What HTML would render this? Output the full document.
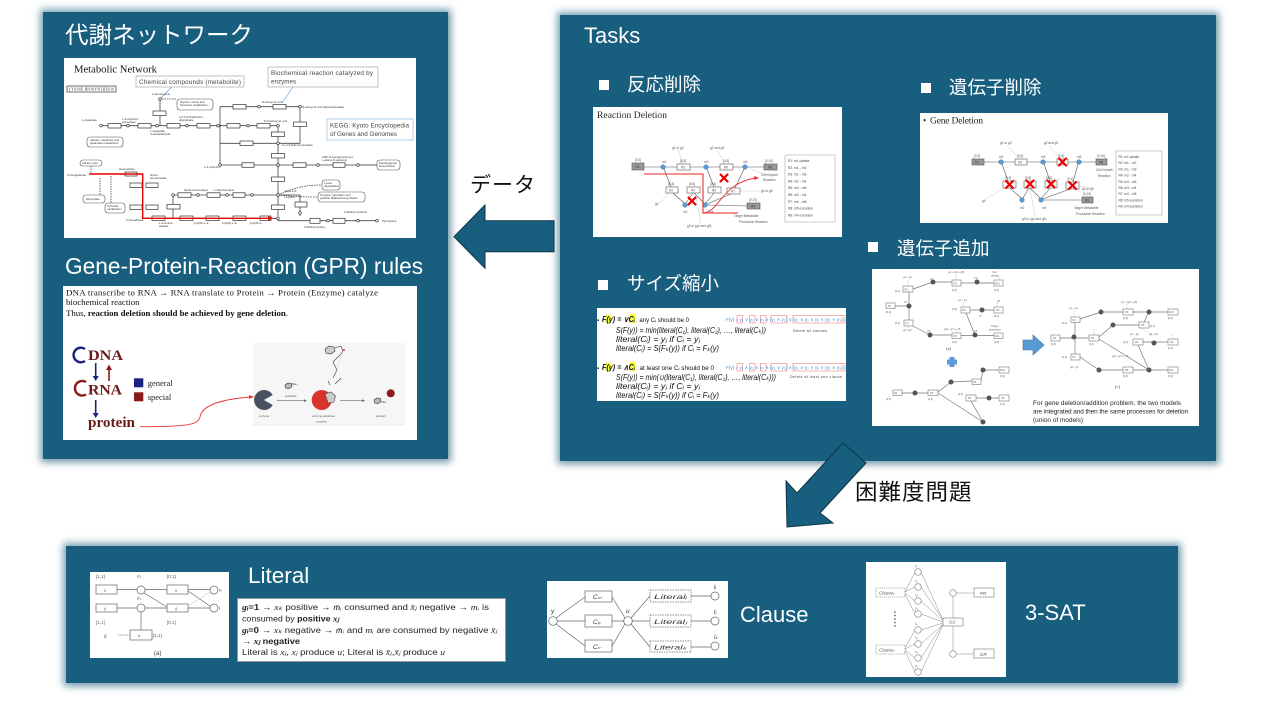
<!DOCTYPE html>
<html><head><meta charset="utf-8">
<style>
html,body{margin:0;padding:0;}
body{width:1280px;height:720px;position:relative;overflow:hidden;background:#fff;font-family:"Liberation Sans","Noto Sans CJK JP",sans-serif;}
.panel{position:absolute;background:#175e7f;box-shadow:0 0 7px 3px rgba(23,94,127,.55),2px 3px 8px rgba(0,0,0,.12);}
.t{position:absolute;color:#fff;white-space:nowrap;line-height:1;font-family:"Liberation Sans","Noto Sans CJK JP",sans-serif;}
.k{position:absolute;color:#111;white-space:nowrap;line-height:1;font-family:"Liberation Sans","Noto Sans CJK JP",sans-serif;}
.bul{position:absolute;width:10px;height:10px;background:#fff;}
.img{position:absolute;background:#fff;overflow:hidden;}
svg text{font-family:"Liberation Sans",sans-serif;}
.sf{font-family:"Liberation Serif",serif !important;}
</style></head><body>

<!-- Panels -->
<div class="panel" style="left:43px;top:12px;width:405px;height:447px;"></div>
<div class="panel" style="left:560px;top:15px;width:656px;height:446px;"></div>
<div class="panel" style="left:66px;top:546px;width:1112px;height:137px;"></div>

<!-- Left panel -->
<div class="t" style="left:65px;top:24px;font-size:23.5px;">代謝ネットワーク</div>

<div class="img" style="left:64px;top:58px;width:352px;height:180px;">
<svg width="352" height="180" viewBox="0 0 352 180">
<text x="10" y="14.5" class="sf" font-size="10.5" textLength="83" lengthAdjust="spacingAndGlyphs" fill="#111">Metabolic Network</text>
<rect x="72" y="18" width="108" height="11" fill="#fff" stroke="#999" stroke-width=".6"/>
<text x="75" y="26" font-size="6.3" fill="#444" textLength="102">Chemical compounds (metabolite)</text>
<rect x="204" y="9" width="110" height="20" fill="#fff" stroke="#999" stroke-width=".6"/>
<text x="207" y="17" font-size="6.3" fill="#444" textLength="102">Biochemical reaction catalyzed by</text>
<text x="207" y="25.5" font-size="6.3" fill="#444">enzymes</text>
<rect x="263" y="61" width="86" height="21" fill="#fff" stroke="#9dc3e6" stroke-width=".8"/>
<text x="266" y="69.5" font-size="6.3" fill="#444" textLength="79">KEGG: Kyoto Encyclopedia</text>
<text x="266" y="78" font-size="6.3" fill="#444">of Genes and Genomes</text>
<rect x="3" y="28" width="49" height="6" fill="none" stroke="#333" stroke-width=".7"/>
<text x="5" y="32.6" class="sf" font-size="3.6" fill="#222" textLength="45">LYSINE BIOSYNTHESIS</text>
<path d="M107.7,29 L96,41 M229,29 L218,45" stroke="#5b9bd5" stroke-width=".6"/>
<g stroke="#444" stroke-width=".8" fill="none">
<path d="M37,67.7H156 M96,41V67.7 M156,48.7V107 M156,48.7H236V85.3 M156,67.7H214 M156,85.3H236 M214,67.7V162.7 M156,107H313 M109,137H214 M214,162.7H313 M236,137V158 M78.7,160.3H214 M109,137V160.3 M25,116H78.7 M246,162.7H214 M214,137H236"/>
<path d="M27,108V116 M47,118V145 M36,120V137 M214,137 C230,130 240,127 258,127 M214,137 C235,139 240,139 254,139 M98,41H113 M294,107H313" stroke-dasharray="1.5,1"/>
</g>
<g fill="#fff" stroke="#333" stroke-width=".7">
<rect x="44" y="65.5" width="13" height="4.5"/><rect x="74" y="65.5" width="13" height="4.5"/><rect x="103" y="65.5" width="13" height="4.5"/><rect x="133" y="65.5" width="13" height="4.5"/>
<rect x="89" y="53" width="13" height="4.5"/><rect x="169" y="46.5" width="13" height="4.5"/><rect x="209" y="46.5" width="13" height="4.5"/>
<rect x="229.5" y="64" width="13" height="4.5"/><rect x="163" y="65.5" width="13" height="4.5"/><rect x="193" y="65.5" width="13" height="4.5"/>
<rect x="176" y="83" width="13" height="4.5"/>
<rect x="207.5" y="74" width="13" height="4.5"/><rect x="207.5" y="95.5" width="13" height="4.5"/><rect x="207.5" y="119" width="13" height="4.5"/><rect x="207.5" y="147" width="13" height="4.5"/>
<rect x="178" y="104.8" width="12" height="4.5"/><rect x="229" y="104.8" width="13" height="4.5"/><rect x="269" y="104.8" width="12" height="4.5"/>
<rect x="88" y="158" width="13" height="4.5"/><rect x="116" y="158" width="13" height="4.5"/><rect x="142" y="158" width="13" height="4.5"/><rect x="169" y="158" width="13" height="4.5"/><rect x="196" y="158" width="11" height="4.5"/>
<rect x="114" y="134.8" width="13" height="4.5"/><rect x="143" y="134.8" width="13" height="4.5"/><rect x="169" y="134.8" width="12" height="4.5"/>
<rect x="61" y="114" width="12" height="4"/><rect x="66" y="125" width="12" height="4.5"/><rect x="82" y="125" width="12" height="4.5"/><rect x="66" y="147" width="12" height="4.5"/><rect x="82" y="147" width="12" height="4.5"/><rect x="103" y="146.5" width="13" height="4.5"/>
<rect x="231" y="144" width="12" height="5"/><rect x="246" y="160.3" width="10" height="5"/><rect x="269" y="160.3" width="12" height="5"/>
</g>
<g fill="#fff" stroke="#555" stroke-width=".6">
<rect x="113" y="41" width="36" height="11" rx="3"/><rect x="23" y="79" width="36" height="10" rx="3"/><rect x="313" y="102" width="23" height="10" rx="3"/>
<rect x="16" y="102" width="22" height="6" rx="3"/><rect x="19" y="137" width="22" height="8" rx="3"/><rect x="41" y="145" width="20" height="10" rx="3"/>
<rect x="258" y="122" width="18" height="10" rx="3"/><rect x="254" y="134" width="47" height="10" rx="3"/>
</g>
<g fill="#fff" stroke="#222" stroke-width=".6">
<circle cx="37" cy="67.7" r="1.3"/><circle cx="64" cy="67.7" r="1.3"/><circle cx="93" cy="67.7" r="1.3"/><circle cx="123" cy="67.7" r="1.3"/><circle cx="154" cy="67.7" r="1.3"/>
<circle cx="96" cy="41" r="1.3"/><circle cx="195" cy="48.7" r="1.3"/><circle cx="236" cy="48.7" r="1.3"/><circle cx="184" cy="67.7" r="1.3"/><circle cx="214" cy="67.7" r="1.3"/>
<circle cx="214" cy="85.3" r="1.3"/><circle cx="214" cy="107" r="1.3"/><circle cx="214" cy="137" r="1.3"/><circle cx="214" cy="160.3" r="1.3"/><circle cx="254" cy="107" r="1.3"/><circle cx="294" cy="107" r="1.3"/>
<circle cx="109" cy="137" r="1.3"/><circle cx="134" cy="137" r="1.3"/><circle cx="163" cy="137" r="1.3"/><circle cx="188" cy="137" r="1.3"/><circle cx="264" cy="162.7" r="1.3"/><circle cx="294" cy="162.7" r="1.3"/><circle cx="313" cy="162.7" r="1.3"/><circle cx="156" cy="107" r="1.3"/><circle cx="236" cy="155" r="1.3"/>
</g>
<g font-size="2.9" fill="#333" class="sf">
<text x="18" y="63">L-Aspartate</text><text x="58" y="62">L-4-Aspartyl-</text><text x="58" y="65">phosphate</text><text x="88" y="37">L-Homoserine</text>
<text x="115" y="60">2,3,4,5-Tetrahydro-</text><text x="115" y="63">dipicolinate</text><text x="86" y="74">L-Aspartate</text><text x="86" y="77">4-semialdehyde</text>
<text x="198" y="45">N-Acetyl-LL-2,6-</text><text x="238" y="50">N-Acetyl-LL-2,6-diaminopimelate</text><text x="200" y="64">N-Succinyl-LL-2,6-</text>
<text x="218" y="88">LL-2,6-Diaminopimelate</text><text x="140" y="110">L-2,3-Amino-</text><text x="258" y="100">UDP-N-acetylmuramoyl-</text><text x="258" y="103">L-alanyl-D-glutamyl</text>
<text x="220" y="134">meso-2,6-</text><text x="220" y="140">L-Lysine</text><text x="3" y="118">2-Oxoglutarate</text><text x="55" y="112">Homocitrate</text>
<text x="86" y="118">Homo-</text><text x="86" y="121">cis-aconitate</text><text x="62" y="163">2-Oxoadipate</text><text x="95" y="166">L-2-Amino-</text><text x="95" y="169">adipate</text>
<text x="130" y="166">Lys(W)-L-2-</text><text x="158" y="166">Lys(W)-L-2-</text><text x="186" y="166">Lys(W)-L-</text><text x="318" y="164">Pyrrolysine</text>
<text x="240" y="170">3-Methylornithyl-</text><text x="120" y="133">alpha-Aminoadipyl</text><text x="150" y="133">L-Saccharopine</text><text x="280" y="155">3-Methyl-ornithine</text>
<text x="116" y="45">Glycine, serine and</text><text x="116" y="48">threonine metabolism</text><text x="26" y="83">Alanine, aspartate and</text><text x="26" y="86">glutamate metabolism</text>
<text x="18" y="106">Citrate cycle</text><text x="22" y="142">Glyoxylate</text><text x="43" y="149">Pyruvate</text><text x="43" y="152">metabolism</text>
<text x="315" y="106">Peptidoglycan</text><text x="315" y="109">biosynthesis</text><text x="260" y="126">Lysine</text><text x="260" y="129">degradation</text><text x="256" y="138">Tropane, piperidine and</text><text x="256" y="141">pyridine alkaloid biosynthesis</text>
</g>
<path d="M25,116H78.7V160.3H205" stroke="#e60000" stroke-width="1.4" fill="none"/>
<path d="M204,158 L209.5,160.3 L204,162.6Z" fill="#e60000"/>
</svg>
</div>

<div class="t" style="left:65px;top:255px;font-size:22.7px;">Gene-Protein-Reaction (GPR) rules</div>

<div class="img" style="left:63px;top:286px;width:354px;height:154px;">
<svg width="354" height="154" viewBox="0 0 354 154">
<text x="3" y="9.7" class="sf" font-size="8.8" fill="#111" textLength="312" lengthAdjust="spacing">DNA transcribe to RNA → RNA translate to Protein → Protein (Enzyme) catalyze</text>
<text x="3" y="19" class="sf" font-size="8.8" fill="#111">biochemical reaction</text>
<text x="3" y="30" class="sf" font-size="8.8" fill="#111" textLength="222" lengthAdjust="spacing">Thus, <tspan font-weight="bold">reaction deletion should be achieved by gene deletion</tspan>.</text>
<rect x="190" y="57" width="152" height="82" fill="#f6f6f6"/>
<path d="M22,63 A7.3,7.3 0 1 0 22,75" stroke="#1a237e" stroke-width="2.4" fill="none"/>
<path d="M23,96 A7.3,7.3 0 1 0 23,108.5" stroke="#8b1a1a" stroke-width="2.4" fill="none"/>
<text x="25" y="74" class="sf" font-size="15" font-weight="bold" fill="#6b1a1a" textLength="35" lengthAdjust="spacingAndGlyphs">DNA</text>
<text x="25" y="108.5" class="sf" font-size="15" font-weight="bold" fill="#6b1a1a" textLength="34" lengthAdjust="spacingAndGlyphs">RNA</text>
<text x="25" y="141" class="sf" font-size="14.5" font-weight="bold" fill="#6b1a1a" textLength="47" lengthAdjust="spacingAndGlyphs">protein</text>
<path d="M32.7,77V91 M32.7,114V128" stroke="#1a237e" stroke-width="1.6"/>
<path d="M29.7,90 L32.7,95 L35.7,90Z M29.7,127 L32.7,132 L35.7,127Z" fill="#1a237e"/>
<path d="M46,95V83" stroke="#8b1a1a" stroke-width="1.6"/>
<path d="M43,84 L46,78.5 L49,84Z" fill="#8b1a1a"/>
<rect x="71" y="92.3" width="9.3" height="9" fill="#1a237e"/>
<rect x="71" y="106.3" width="9.3" height="9" fill="#8b1a1a"/>
<text x="84.7" y="100" class="sf" font-size="8.5" fill="#222">general</text>
<text x="84.7" y="114" class="sf" font-size="8.5" fill="#222">special</text>
<path d="M77,140.7 C125,140.5 135,139 137,131 C139,119 160,113 188,111" stroke="#e53935" stroke-width=".9" fill="none"/>
<path d="M186,109 L191,110.8 L186.3,113Z" fill="#e53935"/>
<path d="M201,114 m8.7,-5 A10,10 0 1 0 209.7,119 L201,114Z" fill="#4a5160"/>
<path d="M214,114.7H242" stroke="#666" stroke-width=".6"/><path d="M241,113.3 L244,114.7 L241,116Z" fill="#666"/>
<polygon points="222,99 225,97 228.5,97.5 229,100.5 226,102.5 222.5,102" fill="#bbb" stroke="#333" stroke-width=".6"/>
<text x="229" y="99" font-size="3" fill="#333">NH₃</text>
<text x="222" y="111" font-size="2.8" fill="#555">substrate</text>
<circle cx="258.7" cy="114" r="10" fill="#d9342b"/>
<polygon points="262,108 268,106 272.5,110 271,116 265,117" fill="#ccc" stroke="#444" stroke-width=".6"/>
<path d="M277,114.7H300" stroke="#666" stroke-width=".6"/><path d="M299,113.3 L302,114.7 L299,116Z" fill="#666"/>
<polygon points="311,114 314,112 317.5,112.5 318,115.5 315,117.5 311.5,117" fill="#bbb" stroke="#333" stroke-width=".6"/>
<text x="318.5" y="117" font-size="3" fill="#333">NH</text>
<circle cx="327.7" cy="107.3" r="4" fill="#8b1a1a"/>
<g stroke="#333" stroke-width=".6" fill="none">
<polygon points="262,63 266,60 271,61 272,65 268,68 263,67" fill="#ccc"/>
<path d="M272,62 L278,60 M278,60 L280,65 M280,65 L276,70 M276,70 L270,76 M270,76 L274,84 M274,84 L270,92 M265,95 L267,99 M278,92 L272,98"/>
</g>
<path d="M280,65 L274,82" stroke="#8bc34a" stroke-width=".5" stroke-dasharray="1,1"/>
<circle cx="281" cy="64" r="1" fill="#e53935"/>
<g font-size="2.9" fill="#555">
<text x="196" y="131">enzyme</text><text x="249" y="131">enzyme-substrate</text><text x="253" y="136.5">complex</text><text x="313" y="131">product</text>
</g>
<path d="M190,139H342" stroke="#ddd" stroke-width=".6"/>
</svg>
</div>

<!-- Arrows and labels between panels -->
<div class="k" style="left:470px;top:175px;font-size:21px;letter-spacing:1px;">データ</div>
<svg style="position:absolute;left:0;top:0;" width="1280" height="720">
<polygon points="454,236.7 485,205 485,220.7 554,220.7 554,251.7 485,251.7 485,268.3" fill="#175e7f" stroke="#0d3446" stroke-width="1"/>
<polygon points="843,443 866,463 820,513 833,523 787,527 786,481 797,493" fill="#175e7f" stroke="#0d3446" stroke-width="1"/>
</svg>
<div class="k" style="left:855px;top:482px;font-size:22.5px;letter-spacing:1px;">困難度問題</div>

<!-- Tasks panel -->
<div class="t" style="left:584px;top:25px;font-size:22px;">Tasks</div>
<div class="bul" style="left:599px;top:80px;"></div>
<div class="t" style="left:627px;top:76px;font-size:18.5px;">反応削除</div>
<div class="bul" style="left:921px;top:83px;"></div>
<div class="t" style="left:949px;top:79px;font-size:18.5px;">遺伝子削除</div>
<div class="bul" style="left:868px;top:242px;"></div>
<div class="t" style="left:897px;top:239.5px;font-size:18.5px;">遺伝子追加</div>
<div class="bul" style="left:598px;top:280px;"></div>
<div class="t" style="left:627px;top:275px;font-size:18.5px;">サイズ縮小</div>

<!-- Reaction deletion -->
<div class="img" style="left:593px;top:107px;width:249px;height:130px;">
<svg width="249" height="130" viewBox="0 0 249 130">
<text x="4" y="11" class="sf" font-size="9.5" fill="#222" textLength="70">Reaction Deletion</text>
<g stroke="#555" stroke-width=".6" fill="none">
<path d="M51,60H68 M72,60H84 M97,60H111 M115,60H127 M140,60H150 M154,60H171 M71,62L78,80 M80,86L91,96 M93,96L100,86 M101,86L111,96 M114,62L121,80 M121,86L113,96 M114,97L138,87 M142,81L151,62 M114,98L154,99"/>
</g>
<g stroke="#bbb" stroke-width=".4" fill="none"><path d="M85,43L90,57 M124,43L132,57 M166,84L147,84 M67,96L76,86 M108,116L102,86 M180,70L157,62"/></g>
<g stroke="#555" stroke-width=".6">
<rect x="39" y="56" width="12" height="7" fill="#999"/><rect x="171" y="57" width="13" height="6" fill="#999"/><rect x="154" y="96" width="13" height="6" fill="#999"/>
<rect x="84" y="57" width="13" height="6" fill="#fff"/><rect x="127" y="57" width="13" height="6" fill="#fff"/>
<rect x="73" y="80" width="12" height="6" fill="#fff"/><rect x="94" y="80" width="13" height="6" fill="#fff"/><rect x="115" y="80" width="13" height="6" fill="#fff"/><rect x="134" y="81" width="13" height="6" fill="#fff"/>
</g>
<g fill="#5b9bd5" stroke="#2e5f8a" stroke-width=".4">
<circle cx="70" cy="60" r="2.3"/><circle cx="113" cy="60" r="2.3"/><circle cx="152" cy="60" r="2.3"/><circle cx="92" cy="98" r="2.3"/><circle cx="112" cy="98" r="2.3"/>
</g>
<g font-size="3.2" fill="#555">
<text x="42" y="54">[3,3]</text><text x="87" y="55">[0,5]</text><text x="130" y="55">[0,5]</text><text x="172" y="55">[0,10]</text>
<text x="75" y="78">[0,4]</text><text x="96" y="78">[0,5]</text><text x="117" y="78">[0,4]</text><text x="156" y="94">[0,10]</text>
<text x="69" y="56">m1</text><text x="111" y="56">m3</text><text x="150" y="56">m5</text><text x="90" y="106">m2</text><text x="116" y="106">m4</text>
<text x="79" y="42">g1 or g2</text><text x="117" y="42">g2 and g3</text><text x="168" y="69">Cell  Growth</text><text x="170" y="74">Reaction</text>
<text x="168" y="85">g4 or g5</text><text x="62" y="98">g4</text><text x="141" y="110">Target Metabolite</text><text x="146" y="116">Production Reaction</text><text x="94" y="120">g3 or (g4 and g5)</text>
<text x="42.5" y="61" fill="#333">R1</text><text x="88" y="61.5">R3</text><text x="131" y="61.5">R5</text><text x="175" y="61.5" fill="#333">R8</text><text x="76" y="84.5">R2</text><text x="98" y="84.5">R4</text><text x="119" y="84.5">R6</text><text x="138" y="85.5">R7</text><text x="158" y="100.5" fill="#333">R9</text>
</g>
<rect x="192" y="48" width="50" height="67" fill="#fff" stroke="#aaa" stroke-width=".6"/>
<g font-size="3.3" fill="#444">
<text x="195" y="55">R1: m1 uptake</text><text x="195" y="61.8">R2: m1→m2</text><text x="195" y="68.6">R3: m1→m3</text><text x="195" y="75.4">R4: m2→m4</text><text x="195" y="82.2">R5: m3→m5</text><text x="195" y="89">R6: m3→m4</text><text x="195" y="95.8">R7: m4→m5</text><text x="195" y="102.6">R8: m5 excretion</text><text x="195" y="109.4">R9: m4 excretion</text>
</g>
<path d="M51,67H110V106H145" stroke="#f03030" stroke-width="1.3" fill="none" opacity=".85"/>
<path d="M110,106 C128,104 128,76 163,71" stroke="#f03030" stroke-width=".9" fill="none"/>
<path d="M161,69 L166,70.8 L161.5,73Z" fill="#f03030"/>
<g stroke="#e00" stroke-width="2.2" stroke-linecap="round"><path d="M127.5,67.5L134.5,74.5 M134.5,67.5L127.5,74.5 M95.5,90.5L102.5,97.5 M102.5,90.5L95.5,97.5"/></g>
</svg>
</div>

<!-- Gene deletion -->
<div class="img" style="left:920px;top:113px;width:248px;height:110px;">
<svg width="248" height="110" viewBox="0 0 248 110">
<text x="3" y="10.5" class="sf" font-size="9" fill="#222">•</text>
<text x="10" y="10.5" class="sf" font-size="9.5" fill="#222" textLength="53">Gene Deletion</text>
<g stroke="#555" stroke-width=".6" fill="none">
<path d="M64,49H79 M83,49H95 M107,49H121 M125,49H137 M148,49H157 M161,49H176 M82,51L88,68 M90,75L101,85 M103,85L109,75 M110,75L120,85 M124,51L130,68 M130,75L122,85 M123,86L150,76 M153,69L158,51 M123,87L162,87"/>
</g>
<g stroke="#bbb" stroke-width=".4" fill="none"><path d="M87,33L100,46 M129,33L141,46 M172,75L160,73 M66,86L86,74 M115,103L110,76 M140,65L131,70"/></g>
<g stroke="#555" stroke-width=".6">
<rect x="52" y="46" width="12" height="6" fill="#999"/><rect x="176" y="46" width="11" height="6" fill="#999"/><rect x="162" y="84" width="11" height="6" fill="#999"/>
<rect x="95" y="46" width="12" height="6" fill="#fff"/><rect x="137" y="46" width="11" height="6" fill="#fff"/>
<rect x="83" y="68" width="13" height="7" fill="#fff"/><rect x="104" y="68" width="12" height="7" fill="#fff"/><rect x="125" y="68" width="12" height="7" fill="#fff"/><rect x="146" y="69" width="13" height="7" fill="#fff"/>
</g>
<g fill="#5b9bd5" stroke="#2e5f8a" stroke-width=".4">
<circle cx="81" cy="49" r="2.3"/><circle cx="123" cy="49" r="2.3"/><circle cx="159" cy="49" r="2.3"/><circle cx="102" cy="87" r="2.3"/><circle cx="121" cy="87" r="2.3"/>
</g>
<g font-size="3.2" fill="#555">
<text x="54" y="44">[3,3]</text><text x="97" y="44">[0,5]</text><text x="138" y="44">[0,5]</text><text x="177" y="44">[0,10]</text>
<text x="85" y="66">[0,4]</text><text x="105" y="66">[0,5]</text><text x="126" y="66">[0,5]</text><text x="147" y="67">[0,1]</text><text x="163" y="82">[0,10]</text>
<text x="79" y="45">m1</text><text x="121" y="45">m3</text><text x="157" y="45">m5</text><text x="100" y="96">m2</text><text x="122" y="96">m4</text>
<text x="80" y="31">g1 or g2</text><text x="124" y="31">g2 and g3</text><text x="176" y="58">Cell  Growth</text><text x="178" y="64">Reaction</text><text x="162" y="77">g4 or g5</text>
<text x="62" y="89">g4</text><text x="154" y="96">Target Metabolite</text><text x="156" y="102">Production Reaction</text><text x="102" y="107">g3 or (g4 and g5)</text>
<text x="55" y="50.5" fill="#333">R1</text><text x="98" y="50.5">R3</text><text x="179" y="50.5" fill="#333">R8</text><text x="165" y="88.5" fill="#333">R9</text>
</g>
<rect x="196" y="38" width="46" height="64" fill="#fff" stroke="#aaa" stroke-width=".6"/>
<g font-size="3.2" fill="#444">
<text x="198.5" y="45">R1: m1 uptake</text><text x="198.5" y="51.2">R2: m1→m2</text><text x="198.5" y="57.4">R3: m1→m3</text><text x="198.5" y="63.6">R4: m2→m4</text><text x="198.5" y="69.8">R5: m3→m5</text><text x="198.5" y="76">R6: m3→m4</text><text x="198.5" y="82.2">R7: m4→m5</text><text x="198.5" y="88.4">R8: m5 excretion</text><text x="198.5" y="94.6">R9: m4 excretion</text>
</g>
<g stroke="#e00" stroke-width="2.2" stroke-linecap="round"><path d="M139,45.5L146,52.5 M146,45.5L139,52.5 M86,68L93,75 M93,68L86,75 M106.5,67.5L113.5,74.5 M113.5,67.5L106.5,74.5 M127.5,67.5L134.5,74.5 M134.5,67.5L127.5,74.5 M149,69L156,76 M156,69L149,76"/></g>
</svg>
</div>

<!-- Size reduction -->
<div class="img" style="left:597px;top:308px;width:249px;height:93px;">
<svg width="249" height="93" viewBox="0 0 249 93">
<rect x="8" y="7" width="6" height="8" fill="#ffff3b"/><rect x="32" y="6" width="6" height="9" fill="#ffff3b"/>
<rect x="8" y="55" width="6" height="8" fill="#ffff3b"/><rect x="32" y="54" width="6" height="9" fill="#ffff3b"/>
<g class="sf" fill="#111">
<text x="0" y="14" font-size="6">▪</text>
<text x="5" y="14" font-size="8" font-weight="bold" font-style="italic" textLength="33" lengthAdjust="spacingAndGlyphs">F(y) = ∨Cᵢ</text>
<text x="39" y="14" font-size="6.5" textLength="53" lengthAdjust="spacingAndGlyphs">: any Cᵢ should be 0</text>
<text x="19" y="25" font-size="8.5" font-style="italic" textLength="150" lengthAdjust="spacingAndGlyphs">S(F(y)) = min(literal(C₁), literal(C₂), …, literal(Cₖ))</text>
<text x="19" y="34" font-size="8.5" font-style="italic" textLength="84" lengthAdjust="spacingAndGlyphs">literal(Cᵢ) = yⱼ    if Cᵢ = yⱼ</text>
<text x="19" y="43" font-size="8.5" font-style="italic" textLength="103" lengthAdjust="spacingAndGlyphs">literal(Cᵢ) = S(Fₖ(y))   if Cᵢ = Fₖ(y)</text>
<text x="0" y="62" font-size="6">▪</text>
<text x="5" y="62" font-size="8" font-weight="bold" font-style="italic" textLength="33" lengthAdjust="spacingAndGlyphs">F(y) = ∧Cᵢ</text>
<text x="39" y="62" font-size="6.5" textLength="78" lengthAdjust="spacingAndGlyphs">: at least one Cᵢ should be 0</text>
<text x="19" y="72" font-size="8.5" font-style="italic" textLength="160" lengthAdjust="spacingAndGlyphs">S(F(y)) = min(∪(literal(C₁), literal(C₂), …, literal(Cₖ)))</text>
<text x="19" y="81" font-size="8.5" font-style="italic" textLength="84" lengthAdjust="spacingAndGlyphs">literal(Cᵢ) = yⱼ    if Cᵢ = yⱼ</text>
<text x="19" y="90" font-size="8.5" font-style="italic" textLength="103" lengthAdjust="spacingAndGlyphs">literal(Cᵢ) = S(Fₖ(y))   if Cᵢ = Fₖ(y)</text>
</g>
<g fill="none" stroke="#f08080" stroke-width=".6">
<rect x="140" y="7.5" width="5.5" height="7.5"/><rect x="152.5" y="7.5" width="5.5" height="7.5"/><rect x="163.5" y="7.5" width="5.5" height="7.5"/><rect x="174" y="7.5" width="16" height="7.5"/><rect x="196" y="7.5" width="52" height="7.5"/>
<rect x="140" y="55.5" width="5.5" height="7.5"/><rect x="152.5" y="55.5" width="5.5" height="7.5"/><rect x="163.5" y="55.5" width="5.5" height="7.5"/><rect x="174" y="55.5" width="16" height="7.5"/><rect x="196" y="55.5" width="52" height="7.5"/>
</g>
<g fill="#3b82d6" font-size="4.4">
<text x="129" y="13" textLength="118">F(y) = y₁ ∨ y₂ ∨ y₃ ∨ (y₁ ∧ y₂) ∨ (y₁ ∧ y₂ ∧ y₃ ∧ (y₁ ∨ y₃))</text>
<text x="129" y="61" textLength="118">F(y) = y₁ ∧ y₂ ∧ y₃ ∧ (y₁ ∨ y₂) ∧ (y₁ ∨ y₂ ∨ y₃ ∨ (y₁ ∧ y₃))</text>
</g>
<text x="196" y="24" font-size="3.6" fill="#444" textLength="34">Delete all clauses</text>
<text x="193" y="70" font-size="3.6" fill="#444" textLength="52">Delete at least one clause</text>
</svg>
</div>

<!-- Gene addition -->
<div class="img" style="left:872px;top:269px;width:327px;height:157px;">
<svg width="327" height="157" viewBox="0 0 327 157">
<g stroke="#777" stroke-width=".7" fill="none">
<path d="M41,20L61,13 M61,13H80 M89,14H122 M37,37V23 M37,37V51 M23,37H37 M41,57L58,66 M58,66H80 M89,66.5H122 M103,66L94,44 M98,41H122"/>
<path d="M30,124H56 M66,123L79,113 M79,113L100,112 M109,111L111,101 M111,101L127,101 M66,124L111,153 M99,132L111,153 M104,129H127"/>
<path d="M203,53.5V85 M188,69H217 M208,50L229,43 M229,43H251 M261,43H296 M227,68L241,56 M241,56H267 M277,43L272,53 M227,70L277,101 M266,76L277,101 M271,73H296 M208,88L227,101 M227,101H251 M261,101H296"/>
</g>
<g stroke="#888" stroke-width=".4" stroke-dasharray="1,.8" fill="none">
<path d="M36,11V17 M84,6V11 M127,7V11 M91,33V38 M125,34V38 M36,58V61 M84,60V64 M202,42V48 M255,35V40 M300,66V70 M270,60L280,66 M222,60V66"/>
</g>
<g fill="#555">
<circle cx="61" cy="13" r="2.5"/><circle cx="105" cy="13" r="2.5"/><circle cx="37" cy="37" r="2.5"/><circle cx="58" cy="66" r="2.5"/><circle cx="103" cy="66" r="2.5"/><circle cx="110" cy="41" r="2.5"/>
<circle cx="43" cy="124" r="2.5"/><circle cx="79" cy="113" r="2.5"/><circle cx="111" cy="101" r="2.5"/><circle cx="117" cy="129" r="2.5"/><circle cx="111" cy="153" r="2.5"/>
<circle cx="229" cy="43" r="2.5"/><circle cx="277" cy="43" r="2.5"/><circle cx="202" cy="68" r="2.5"/><circle cx="241" cy="56" r="2.5"/><circle cx="282" cy="74" r="2.5"/><circle cx="227" cy="101" r="2.5"/><circle cx="277" cy="101" r="2.5"/>
</g>
<g fill="#fff" stroke="#777" stroke-width=".6">
<rect x="31" y="17" width="10" height="6"/><rect x="80" y="11" width="9" height="6"/><rect x="122" y="11" width="9" height="6"/><rect x="14" y="34" width="9" height="5.5"/><rect x="32" y="51" width="9" height="6"/><rect x="80" y="64" width="9" height="5.5"/><rect x="122" y="64" width="9" height="5.5"/><rect x="89" y="38" width="9" height="6"/><rect x="122" y="38" width="9" height="6"/>
<rect x="21" y="121" width="9" height="5.5"/><rect x="56" y="121" width="10" height="5.5"/><rect x="100" y="110" width="9" height="5.5"/><rect x="127" y="98" width="10" height="6"/><rect x="94" y="126" width="10" height="6"/><rect x="127" y="126" width="10" height="6"/>
<rect x="199" y="48" width="9" height="5.5"/><rect x="251" y="40" width="10" height="6"/><rect x="296" y="40" width="10" height="6"/><rect x="179" y="66" width="9" height="6"/><rect x="217" y="66" width="10" height="6"/><rect x="267" y="53" width="10" height="6"/><rect x="261" y="70" width="10" height="6"/><rect x="296" y="70" width="10" height="6"/><rect x="199" y="85" width="9" height="6"/><rect x="251" y="98" width="10" height="6"/><rect x="296" y="98" width="10" height="6"/>
</g>
<g font-size="2.6" fill="#666" class="sf">
<text x="32.5" y="21.5">R2</text><text x="81.5" y="15.5">R3</text><text x="123" y="15.5">R10</text><text x="16" y="38">R1</text><text x="33.5" y="55.5">R7</text><text x="81.5" y="68">R8</text><text x="123" y="68">R11</text><text x="90.5" y="42">R6</text><text x="124" y="42">R9</text>
<text x="23" y="23">[0,2]</text><text x="80" y="22">[0,2]</text><text x="122" y="22">[0,2]</text><text x="14" y="44">[0,2]</text><text x="23" y="55">[0,2]</text><text x="80" y="74">[0,2]</text><text x="122" y="74">[0,2]</text><text x="80" y="41">[0,2]</text><text x="122" y="48">[0,2]</text>
<text x="31" y="9">g1 + g2</text><text x="76" y="4">g1 + (g4 + g5)</text><text x="120" y="4">Cell</text><text x="119" y="7.5">growth</text><text x="86" y="32">g1 + g3</text><text x="125" y="33">g8</text><text x="31" y="62">g6 + g7</text><text x="72" y="61">(g4 + g7) + g5</text><text x="119" y="58">Target</text><text x="117" y="61.5">production</text>
<text x="58" y="11">C2</text><text x="102" y="10">C3</text><text x="32" y="34">C1</text><text x="55" y="63">C5</text><text x="102" y="63">C6</text><text x="107" y="48">C7</text>
<text x="22" y="125">R1</text><text x="58" y="125">R4</text><text x="101" y="114">R5</text><text x="128" y="102">R10</text><text x="96" y="130">R6</text><text x="129" y="130">R9</text>
<text x="200.5" y="52">R2</text><text x="253" y="44">R3</text><text x="297" y="44">R10</text><text x="181" y="70">R1</text><text x="219" y="70">R4</text><text x="269" y="57">R5</text><text x="263" y="74">R6</text><text x="298" y="74">R9</text><text x="200.5" y="89">R7</text><text x="253" y="102">R8</text><text x="297" y="102">R11</text>
<text x="190" y="55">[0,2]</text><text x="251" y="50">[0,2]</text><text x="296" y="50">[0,2]</text><text x="179" y="76">[0,2]</text><text x="217" y="76">[0,1]</text><text x="278" y="58">[0,2]</text><text x="251" y="74">[0,2]</text><text x="296" y="80">[0,2]</text><text x="190" y="89">[0,2]</text><text x="251" y="108">[0,2]</text><text x="296" y="108">[0,2]</text>
<text x="197" y="40">g1 + g2</text><text x="249" y="34">g1 + (g4 + g5)</text><text x="240" y="88">(g4 + g7) + g5</text><text x="198" y="99">g6 + g7</text><text x="258" y="66">g1 + g3</text><text x="277" y="66">g5 + g6</text>
<text x="14" y="131">[0,2]</text><text x="56" y="131">[0,1]</text><text x="128" y="108">[0,2]</text><text x="128" y="136">[0,2]</text><text x="86" y="126">[0,2]</text>
</g>
<text x="74" y="81" class="sf" font-size="4.5" fill="#444">(a)</text>
<text x="243" y="119" class="sf" font-size="4.5" fill="#444">(c)</text>
<rect x="75" y="90.5" width="10" height="5" fill="#5b9bd5"/><rect x="77.5" y="88" width="5" height="10" fill="#5b9bd5"/>
<polygon points="151,71 161,71 161,66 172,76 161,86 161,81 151,81" fill="#5b9bd5" stroke="#41719c" stroke-width=".6"/>
<g class="sf" font-size="6.4" fill="#222">
<text x="161" y="136" textLength="148">For gene deletion/addition problem, the two models</text>
<text x="161" y="144.5" textLength="155">are integrated and then the same processes for deletion</text>
<text x="161" y="153" textLength="50">(union of models)</text>
</g>
</svg>
</div>

<!-- Bottom panel -->
<div class="img" style="left:90px;top:572px;width:139px;height:86px;">
<svg width="139" height="86" viewBox="0 0 139 86">
<g stroke="#666" stroke-width=".7" fill="#fff">
<rect x="6" y="13" width="21" height="9"/><rect x="77" y="13" width="21" height="9"/><rect x="6" y="32" width="21" height="8"/><rect x="77" y="32" width="21" height="8"/><rect x="40" y="58" width="22" height="10"/>
</g>
<g stroke="#666" stroke-width=".7" fill="none">
<path d="M27,17.5H47 M55,17.5H77 M27,36H47 M55,36H77 M54,21L77,35 M98,17.5H120 M98,36H120 M98,19L120,34 M51,40V58"/>
<path d="M98,34L120,20" stroke="#ccc"/>
<path d="M28,63H40" stroke-dasharray="1.2,1"/>
</g>
<g stroke="#666" stroke-width=".7" fill="#fff"><circle cx="51" cy="18" r="4"/><circle cx="51" cy="36" r="4"/><circle cx="124" cy="18" r="4"/><circle cx="124" cy="36" r="4"/></g>
<g font-size="4.5" fill="#555" class="sf">
<text x="6" y="6">[1,1]</text><text x="47" y="6">m</text><text x="77" y="6">[0,1]</text><text x="6" y="52">[1,1]</text><text x="77" y="52">[0,1]</text><text x="63" y="65">[1,1]</text>
<text x="14" y="20" font-style="italic">x</text><text x="85" y="20" font-style="italic">x</text><text x="14" y="38.5" font-style="italic">x̄</text><text x="85" y="38.5" font-style="italic">x̄</text><text x="48" y="65" font-style="italic">x</text>
<text x="47" y="28">m̄</text><text x="129" y="19.5">u</text><text x="129" y="38" font-style="italic">l</text><text x="14" y="65" font-style="italic">g</text>
</g>
<text x="64" y="83" font-size="6" fill="#333">(a)</text>
</svg>
</div>

<div class="t" style="left:248px;top:565px;font-size:22.5px;">Literal</div>

<div class="img" style="left:237px;top:598px;width:269px;height:64px;box-sizing:border-box;border:1px solid #999;">
<svg width="267" height="62" viewBox="0 0 267 62" style="position:absolute;left:0;top:0;">
<g font-size="8.6" fill="#222">
<text x="4" y="11" textLength="247" lengthAdjust="spacingAndGlyphs"><tspan font-weight="bold" class="sf" font-style="italic">g</tspan><tspan font-weight="bold">ᵢ=1</tspan> → <tspan class="sf" font-style="italic">xₖ</tspan> positive → <tspan class="sf" font-style="italic">m̄ᵢ</tspan> consumed and <tspan class="sf" font-style="italic">x̄ⱼ</tspan> negative → <tspan class="sf" font-style="italic">mᵢ</tspan> is</text>
<text x="4" y="22.5" textLength="97" lengthAdjust="spacingAndGlyphs">consumed by <tspan font-weight="bold">positive <tspan class="sf" font-style="italic">xⱼ</tspan></tspan></text>
<text x="4" y="34" textLength="255" lengthAdjust="spacingAndGlyphs"><tspan font-weight="bold" class="sf" font-style="italic">g</tspan><tspan font-weight="bold">ᵢ=0</tspan> → <tspan class="sf" font-style="italic">xₖ</tspan> negative → <tspan class="sf" font-style="italic">m̄ᵢ</tspan> and <tspan class="sf" font-style="italic">mᵢ</tspan> are consumed by negative <tspan class="sf" font-style="italic">x̄ⱼ</tspan></text>
<text x="4" y="45" textLength="58" lengthAdjust="spacingAndGlyphs">→ <tspan font-weight="bold"><tspan class="sf" font-style="italic">xⱼ</tspan> negative</tspan></text>
<text x="4" y="56" textLength="203" lengthAdjust="spacingAndGlyphs">Literal is <tspan class="sf" font-style="italic">xⱼ</tspan>, <tspan class="sf" font-style="italic">xⱼ</tspan> produce <tspan class="sf" font-style="italic">u</tspan>; Literal is <tspan class="sf" font-style="italic">x̄ⱼ</tspan>,<tspan class="sf" font-style="italic">x̄ⱼ</tspan> produce <tspan class="sf" font-style="italic">u</tspan></text>
</g>
</svg>
</div>

<div class="img" style="left:547px;top:581px;width:181px;height:77px;">
<svg width="181" height="77" viewBox="0 0 181 77">
<g stroke="#666" stroke-width=".7" fill="none">
<path d="M9,37L38,16 M10,40H38 M9,43L38,65 M65,16L78,37 M65,40H77 M65,65L78,43 M84,37L103,15 M85,40H103 M84,43L103,66 M144,15H164 M144,40H164 M144,66H164"/>
</g>
<g stroke="#666" stroke-width=".7" fill="#fff">
<circle cx="6" cy="40" r="4.3"/><circle cx="81" cy="40" r="4.3"/><circle cx="168" cy="15" r="4"/><circle cx="168" cy="40" r="4"/><circle cx="168" cy="65" r="4"/>
<rect x="38" y="10" width="27" height="11"/><rect x="38" y="34" width="27" height="12"/><rect x="38" y="59" width="27" height="12"/>
<rect x="103" y="9" width="41" height="12" stroke-dasharray="1.5,1"/><rect x="103" y="34" width="41" height="12" stroke-dasharray="1.5,1"/><rect x="103" y="60" width="41" height="11" stroke-dasharray="1.5,1"/>
</g>
<g class="sf" font-style="italic" fill="#333">
<text x="4" y="32" font-size="6.5">y</text><text x="79" y="32" font-size="6.5">u</text>
<text x="46" y="18" font-size="6.5">Cₘ</text><text x="46" y="43" font-size="6.5">Cₚ</text><text x="46" y="68" font-size="6.5">Cₙ</text>
<text x="107" y="18" font-size="6.5" textLength="33" lengthAdjust="spacingAndGlyphs">Literalᵢ</text><text x="107" y="43" font-size="6.5" textLength="33" lengthAdjust="spacingAndGlyphs">Literalⱼ</text><text x="107" y="68.5" font-size="6.5" textLength="33" lengthAdjust="spacingAndGlyphs">Literalₖ</text>
<text x="167" y="8" font-size="6">lᵢ</text><text x="167" y="33" font-size="6">lⱼ</text><text x="167" y="58" font-size="6">lₖ</text>
</g>
</svg>
</div>

<div class="t" style="left:740px;top:604px;font-size:22px;">Clause</div>

<div class="img" style="left:866px;top:562px;width:140px;height:115px;">
<svg width="140" height="115" viewBox="0 0 140 115">
<g stroke="#888" stroke-width=".5" fill="none">
<path d="M39,30L49,10 M39,30L49,25 M39,31L49,39 M39,32L49,52 M39,86L49,68 M39,87L49,82 M39,88L49,96 M39,89L49,110"/>
<path d="M55,10L77,58 M55,25L77,58 M55,39L77,59 M55,52L77,60 M55,68L77,61 M55,82L77,62 M55,96L77,62 M55,110L77,63"/>
<path d="M87,34V56 M87,64V89 M90,31H108 M90,92H108"/>
</g>
<g stroke="#777" stroke-width=".6" fill="#fff">
<circle cx="52" cy="10" r="3.3"/><circle cx="52" cy="25" r="3.3"/><circle cx="52" cy="39" r="3.3"/><circle cx="52" cy="52" r="3.3"/>
<circle cx="52" cy="68" r="3.3"/><circle cx="52" cy="82" r="3.3"/><circle cx="52" cy="96" r="3.3"/><circle cx="52" cy="110" r="3.3"/>
<circle cx="87" cy="31" r="3.3"/><circle cx="87" cy="92" r="3.3"/>
<rect x="10" y="26" width="29" height="9" stroke-dasharray="1.2,.8"/><rect x="10" y="83" width="29" height="9" stroke-dasharray="1.2,.8"/>
<rect x="77" y="56" width="20" height="8"/><rect x="108" y="26" width="20" height="9"/><rect x="108" y="87" width="20" height="9"/>
</g>
<g class="sf" font-style="italic" fill="#555" font-size="4.5">
<text x="13" y="32.5">Clause₁</text><text x="13" y="89.5">Clauseₙ</text>
<text x="83" y="61.7">GC</text><text x="114" y="33">PR</text><text x="114" y="94">GR</text>
</g>
<g class="sf" font-style="italic" fill="#666" font-size="3.5">
<text x="49" y="5">l₁ᵢ</text><text x="49" y="20">l₁ⱼ</text><text x="49" y="34">l₁ₖ</text><text x="49" y="47.5">y₁</text>
<text x="49" y="63">lₙᵢ</text><text x="49" y="77">lₙⱼ</text><text x="49" y="91">lₙₖ</text><text x="49" y="105">yₙ</text>
</g>
<g fill="#444"><circle cx="29" cy="50" r=".8"/><circle cx="29" cy="53.5" r=".8"/><circle cx="29" cy="57" r=".8"/><circle cx="29" cy="60.5" r=".8"/><circle cx="29" cy="64" r=".8"/></g>
</svg>
</div>

<div class="t" style="left:1025px;top:602px;font-size:22px;">3-SAT</div>

</body></html>
